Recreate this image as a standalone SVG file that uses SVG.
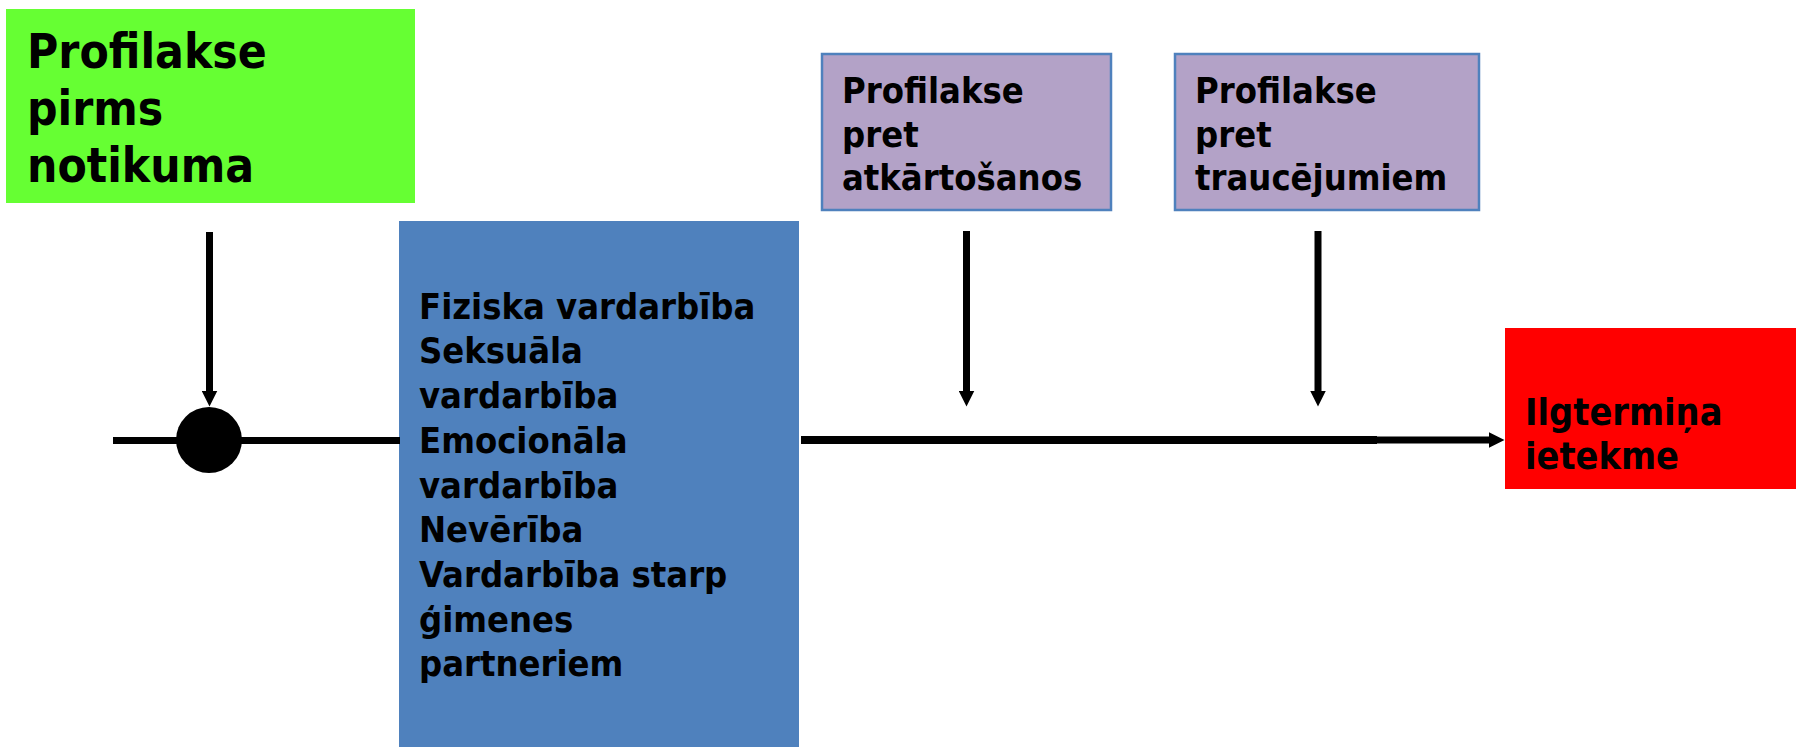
<svg xmlns="http://www.w3.org/2000/svg" width="1796" height="747" viewBox="0 0 1796 747">
<style>
  text { font-family: "DejaVu Sans Condensed", "DejaVu Sans", sans-serif; font-stretch: condensed; font-weight: bold; fill: #000000; }
  .big { font-size: 47.5px; }
  .mid { font-size: 36px; }
  .red { font-size: 37.5px; }
  .purple { fill: #b3a2c7; stroke: #4f81bd; stroke-width: 2.5; }
  .conn { stroke: #000000; fill: none; }
</style>
<defs>
  <marker id="arrow" markerUnits="userSpaceOnUse" markerWidth="16" markerHeight="16" refX="0.5" refY="8" orient="auto">
    <path d="M0,0 L16,8 L0,16 Z" fill="#000000"/>
  </marker>
</defs>
<rect x="0" y="0" width="1796" height="747" fill="#ffffff"/>

<g id="node-green">
  <rect x="6" y="9" width="409" height="194" fill="#66ff33"/>
  <text class="big" x="27" y="68">Profilakse</text>
  <text class="big" x="27" y="125">pirms</text>
  <text class="big" x="27" y="182">notikuma</text>
</g>

<g id="node-blue">
  <rect x="399" y="221" width="400" height="526" fill="#4f81bd"/>
  <text class="mid" x="419" y="318.6">Fiziska vardarbība</text>
  <text class="mid" x="419" y="363.3">Seksuāla</text>
  <text class="mid" x="419" y="408.3">vardarbība</text>
  <text class="mid" x="419" y="453">Emocionāla</text>
  <text class="mid" x="419" y="498">vardarbība</text>
  <text class="mid" x="419" y="542">Nevērība</text>
  <text class="mid" x="419" y="586.6">Vardarbība starp</text>
  <text class="mid" x="419" y="632">ģimenes</text>
  <text class="mid" x="419" y="676.3">partneriem</text>
</g>

<g id="node-purple1">
  <rect class="purple" x="822" y="54" width="289" height="156"/>
  <text class="mid" x="842" y="103">Profilakse</text>
  <text class="mid" x="842" y="147">pret</text>
  <text class="mid" x="842" y="190">atkārtošanos</text>
</g>

<g id="node-purple2">
  <rect class="purple" x="1175" y="54" width="304" height="156"/>
  <text class="mid" x="1195" y="103">Profilakse</text>
  <text class="mid" x="1195" y="147">pret</text>
  <text class="mid" x="1195" y="190">traucējumiem</text>
</g>

<g id="node-red">
  <rect x="1505" y="328" width="291" height="161" fill="#ff0000"/>
  <text class="red" x="1525" y="425">Ilgtermiņa</text>
  <text class="red" x="1525" y="469">ietekme</text>
</g>

<g id="connectors">
  <line class="conn" x1="113" y1="440.5" x2="400" y2="440.5" stroke-width="7"/>
  <line class="conn" x1="801" y1="440" x2="1377" y2="440" stroke-width="8"/>
  <line class="conn" x1="1377" y1="440" x2="1489" y2="440" stroke-width="7" marker-end="url(#arrow)"/>
  <line class="conn" x1="209.5" y1="232" x2="209.5" y2="391" stroke-width="7" marker-end="url(#arrow)"/>
  <line class="conn" x1="966.5" y1="231" x2="966.5" y2="391" stroke-width="7" marker-end="url(#arrow)"/>
  <line class="conn" x1="1318" y1="231" x2="1318" y2="391" stroke-width="7" marker-end="url(#arrow)"/>
</g>

<g id="node-dot">
  <circle cx="209" cy="440" r="33" fill="#000000"/>
</g>
</svg>
